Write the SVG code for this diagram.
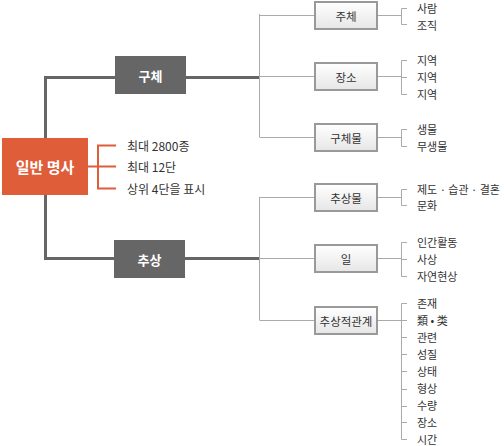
<svg xmlns="http://www.w3.org/2000/svg" width="504" height="446" viewBox="0 0 504 446">
<defs>
<linearGradient id="g" x1="0" y1="0" x2="0" y2="1">
<stop offset="0" stop-color="#ffffff"/>
<stop offset="1" stop-color="#e6e6e6"/>
</linearGradient>
</defs>
<style>
text{font-family:"Noto Sans CJK KR","Noto Sans",sans-serif;}
.t{font-size:11px;fill:#333;dominant-baseline:central;}
.i{font-size:12px;fill:#333;dominant-baseline:central;}
.b{font-size:11.5px;fill:#333;text-anchor:middle;dominant-baseline:central;}
.w{fill:#fff;text-anchor:middle;dominant-baseline:central;}
.thick{stroke:#666;stroke-width:3;fill:none;}
.thin{stroke:#aaa;stroke-width:1;fill:none;}
.or{stroke:#e05d3a;stroke-width:2;fill:none;}
.box{fill:url(#g);stroke:#999;stroke-width:2;}
.dark{fill:#666;}
</style>
<g id="connectors">
<path class="thick" d="M45.5 138V77.5H259M45.5 195V258.5H259"/>
<path class="or" d="M88 166.5H98M116 145.5H98V188.5H116M98 166.5H116"/>
<path class="thin" d="M259.5 14V137M259.5 197V320M259.5 15.5H315M259.5 76.5H315M259.5 137.5H315M259.5 197.5H315M259.5 258.5H315M259.5 320.5H315"/>
<path class="thin" d="M377 15.5H401.5M407 8.5H401.5V24.5H407"/>
<path class="thin" d="M377 76.5H401.5M407 60.5H401.5V94.5H407M401.5 77.5H407"/>
<path class="thin" d="M377 137.5H401.5M407 129.5H401.5V146.5H407"/>
<path class="thin" d="M377 197.5H401.5M407 189.5H401.5V205.5H407"/>
<path class="thin" d="M377 258.5H401.5M407 242.5H401.5V276.5H407M401.5 259.5H407"/>
<path class="thin" d="M377 320.5H401.5M407 303.5H401.5V439.5H407M401.5 320.5H407M401.5 337.5H407M401.5 354.5H407M401.5 371.5H407M401.5 389.5H407M401.5 406.5H407M401.5 422.5H407"/>
</g>
<g id="n-root"><rect x="2" y="138" width="86" height="57" fill="#e05d3a"/><text class="w" x="45" y="166.5" font-size="15" font-weight="bold">일반 명사</text></g>
<g id="n-info">
<text class="i" x="127" y="145">최대 2800종</text>
<text class="i" x="127" y="166">최대 12단</text>
<text class="i" x="127" y="188">상위 4단을 표시</text>
</g>
<g id="n-gucheo"><rect class="dark" x="115" y="56" width="71" height="38"/><text class="w" x="150.5" y="75" font-size="13" font-weight="bold">구체</text></g>
<g id="n-chusang"><rect class="dark" x="114" y="240" width="71" height="38"/><text class="w" x="149.5" y="259" font-size="13" font-weight="bold">추상</text></g>
<g id="n-juche"><rect class="box" x="315" y="2" width="62" height="27"/><text class="b" x="346" y="15.5">주체</text></g>
<g id="n-jangso"><rect class="box" x="315" y="63" width="62" height="27"/><text class="b" x="346" y="76.5">장소</text></g>
<g id="n-guchemul"><rect class="box" x="315" y="124" width="62" height="27"/><text class="b" x="346" y="137.5">구체물</text></g>
<g id="n-chusangmul"><rect class="box" x="315" y="184" width="62" height="27"/><text class="b" x="346" y="197.5">추상물</text></g>
<g id="n-il"><rect class="box" x="315" y="245" width="62" height="27"/><text class="b" x="346" y="258.5">일</text></g>
<g id="n-gwangye"><rect class="box" x="315" y="307" width="62" height="27"/><text class="b" x="346" y="320.5">추상적관계</text></g>
<g id="leaves">
<text class="t" x="417" y="8">사람</text>
<text class="t" x="417" y="25">조직</text>
<text class="t" x="417" y="60">지역</text>
<text class="t" x="417" y="77">지역</text>
<text class="t" x="417" y="94">지역</text>
<text class="t" x="417" y="129">생물</text>
<text class="t" x="417" y="146">무생물</text>
<text class="t" x="417" y="189">제도 · 습관 · 결혼</text>
<text class="t" x="417" y="205">문화</text>
<text class="t" x="417" y="242">인간활동</text>
<text class="t" x="417" y="259">사상</text>
<text class="t" x="417" y="276">자연현상</text>
<text class="t" x="417" y="303">존재</text>
<text class="t" x="417" y="320">類 • 类</text>
<text class="t" x="417" y="337">관련</text>
<text class="t" x="417" y="354">성질</text>
<text class="t" x="417" y="371">상태</text>
<text class="t" x="417" y="388">형상</text>
<text class="t" x="417" y="405">수량</text>
<text class="t" x="417" y="422">장소</text>
<text class="t" x="417" y="438.5">시간</text>
</g>
</svg>
